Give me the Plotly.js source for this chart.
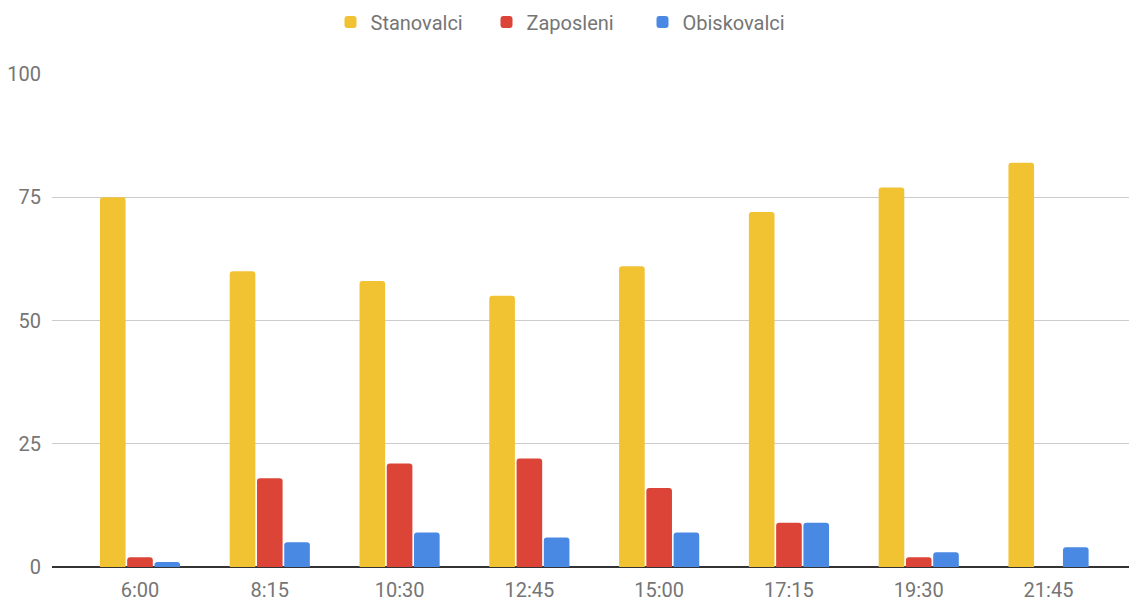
<!DOCTYPE html>
<html>
<head>
<meta charset="utf-8">
<script src="https://cdn.plot.ly/plotly-3.0.1.min.js"></script>
<style>html,body{margin:0;padding:0;background:#fff;}#chart{width:1129px;height:603px;}</style>
</head>
<body>
<div id="chart"></div>
<script>
const categories = ["6:00", "8:15", "10:30", "12:45", "15:00", "17:15", "19:30", "21:45"];
const stanovalci = [75, 60, 58, 55, 61, 72, 77, 82];
const zaposleni = [2, 18, 21, 22, 16, 9, 2, 0];
const obiskovalci = [1, 5, 7, 6, 7, 9, 3, 4];
const yTicks = [0, 25, 50, 75, 100];

const mk = (name, y, color) => ({
  type: 'bar', name: name, x: categories, y: y,
  marker: {color: color, cornerradius: 3},
  hoverinfo: 'x+y+name'
});

const data = [
  mk('Stanovalci', stanovalci, '#F1C232'),
  mk('Zaposleni', zaposleni, '#DB4437'),
  mk('Obiskovalci', obiskovalci, '#4A89E3')
];

const layout = {
  width: 1129, height: 603,
  margin: {l: 52, r: 0, t: 74, b: 36},
  paper_bgcolor: '#fff', plot_bgcolor: '#fff',
  font: {family: 'Roboto, Arial, sans-serif', size: 20, color: '#757575'},
  barmode: 'group', bargap: 0.37, bargroupgap: 0.06,
  showlegend: true,
  legend: {orientation: 'h', xref: 'container', x: 0.5, xanchor: 'center',
           yref: 'container', y: 0.9635, yanchor: 'middle', entrywidth: 111,
           font: {size: 20, color: '#757575'}, traceorder: 'normal'},
  xaxis: {type: 'category', range: [-0.678, 7.62], showgrid: false, zeroline: false,
          showline: false, ticks: '', tickfont: {size: 20, color: '#757575'}, ticklabelstandoff: 9},
  yaxis: {range: [0, 100], tickvals: yTicks, ticktext: yTicks.map(String),
          showgrid: true, gridcolor: '#CCCCCC', gridwidth: 1,
          zeroline: true, zerolinecolor: '#333333', zerolinewidth: 2,
          showline: false, ticks: '', ticklabelstandoff: 10, automargin: false,
          tickfont: {size: 20, color: '#757575'}}
};

Plotly.newPlot('chart', data, layout, {displayModeBar: false, staticPlot: true});
</script>
</body>
</html>
